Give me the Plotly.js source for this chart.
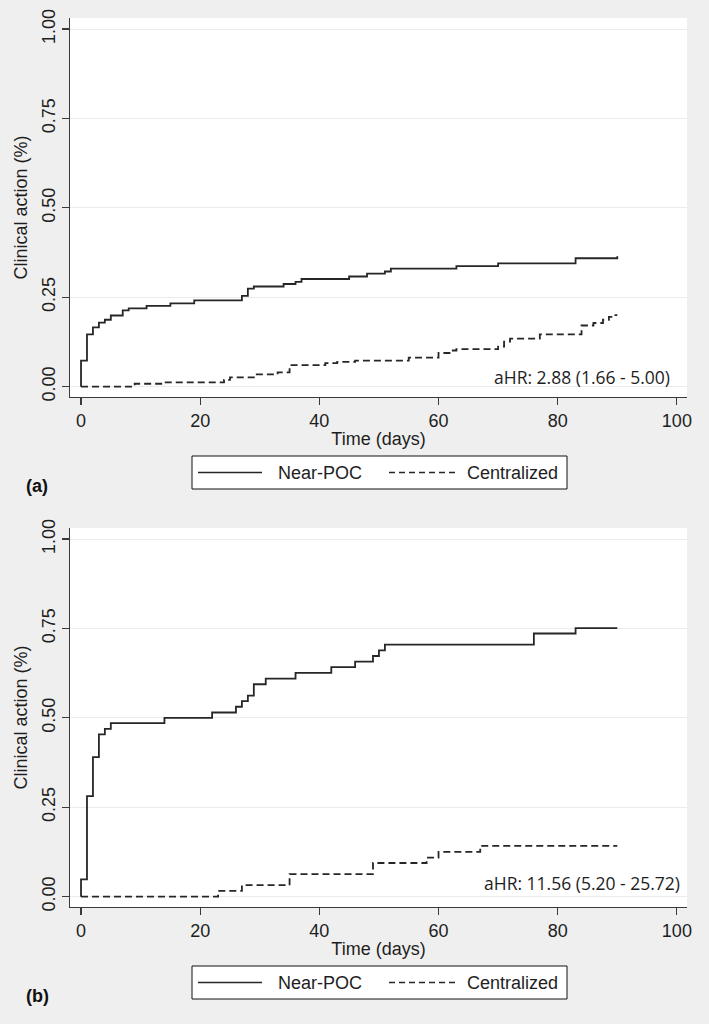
<!DOCTYPE html>
<html>
<head>
<meta charset="utf-8">
<script src="https://cdn.plot.ly/plotly-3.0.1.min.js"></script>
<style>
  html, body { margin: 0; padding: 0; background: #efefef; }
  #chart { width: 709px; height: 1024px; }
</style>
</head>
<body>
<div id="chart"></div>
<script>
// ---- Data ----
// Panel (a)
const aNearT = [0, 0, 1, 2, 3, 4, 5, 7, 8, 11, 15, 19, 27, 28, 29, 34, 36, 37, 45, 48, 51, 52, 63, 70, 83, 90];
const aNearV = [0, 0.073, 0.146, 0.166, 0.179, 0.187, 0.199, 0.213, 0.219, 0.226, 0.233, 0.241, 0.254, 0.274, 0.280, 0.287, 0.293, 0.301, 0.308, 0.316, 0.322, 0.330, 0.337, 0.345, 0.359, 0.365];
const aCentT = [0, 9, 14, 24, 25, 29, 33, 35, 41, 43, 46, 55, 60, 62, 63, 70, 71, 72, 77, 84, 86, 87.6, 88.6, 89.3, 90];
const aCentV = [0, 0.008, 0.012, 0.019, 0.026, 0.034, 0.040, 0.060, 0.066, 0.069, 0.073, 0.081, 0.094, 0.101, 0.105, 0.112, 0.126, 0.134, 0.146, 0.171, 0.178, 0.187, 0.195, 0.200, 0.200];
// Panel (b)
const bNearT = [0, 0, 1, 2, 3, 4, 5, 14, 22, 26, 27, 28, 29, 31, 36, 42, 46, 49, 50, 51, 76, 83, 90];
const bNearV = [0, 0.048, 0.281, 0.390, 0.454, 0.469, 0.485, 0.500, 0.515, 0.531, 0.547, 0.562, 0.594, 0.610, 0.626, 0.642, 0.657, 0.673, 0.689, 0.705, 0.736, 0.751, 0.751];
const bCentT = [0, 23, 27, 35, 49, 58, 60, 67, 90];
const bCentV = [0, 0.016, 0.032, 0.063, 0.094, 0.109, 0.125, 0.142, 0.142];

const seriesNames = ["Near-POC", "Centralized"];
const panelLabels = ["(a)", "(b)"];
const hrTexts = ["aHR: 2.88 (1.66 - 5.00)", "aHR: 11.56 (5.20 - 25.72)"];
const xTickVals = [0, 20, 40, 60, 80, 100];
const yTickVals = [0, 0.25, 0.5, 0.75, 1];
const yTickText = ["0.00", "0.25", "0.50", "0.75", "1.00"];
const xTitle = "Time (days)";
const yTitle = "Clinical action (%)";

// ---- Styling / layout ----
const W = 709, H = 1024;
const px = v => v / W;
const py = v => 1 - v / H;
const FONT = '"Liberation Sans", Arial, sans-serif';
const INK = '#1e1e1e';
const DASH = '7px,4px';

function stepTrace(x, y, name, dash, xa, ya) {
  return {
    x: x, y: y, name: name, type: 'scatter', mode: 'lines',
    line: { shape: 'hv', color: '#262626', width: 1.8, dash: dash },
    xaxis: xa, yaxis: ya, showlegend: false, hoverinfo: 'x+y+name'
  };
}

const traces = [
  stepTrace(aNearT, aNearV, seriesNames[0], 'solid', 'x', 'y'),
  stepTrace(aCentT, aCentV, seriesNames[1], DASH, 'x', 'y'),
  stepTrace(bNearT, bNearV, seriesNames[0], 'solid', 'x2', 'y2'),
  stepTrace(bCentT, bCentV, seriesNames[1], DASH, 'x2', 'y2')
];

function xAxis(domainY, anchor) {
  return {
    domain: [px(70), px(687)], anchor: anchor,
    range: [-1.85, 101.7], showgrid: false, zeroline: false,
    showline: true, linecolor: '#3a3a3a', linewidth: 1.2, mirror: false,
    ticks: 'outside', ticklen: 7, tickcolor: '#3a3a3a', tickwidth: 1.2,
    tickvals: xTickVals, tickfont: { family: FONT, size: 18, color: INK },
    title: { text: xTitle, font: { family: FONT, size: 18, color: INK }, standoff: 2 },
    fixedrange: true
  };
}
function yAxis(domainY, anchor) {
  return {
    domain: domainY, anchor: anchor,
    range: [-0.029, 1.031], showgrid: true, gridcolor: '#ebebeb', gridwidth: 1,
    zeroline: false, showline: true, linecolor: '#3a3a3a', linewidth: 1.2,
    ticks: 'outside', ticklen: 7, tickcolor: '#3a3a3a', tickwidth: 1.2,
    tickvals: yTickVals, ticktext: yTickText, tickangle: -90,
    tickfont: { family: FONT, size: 18, color: INK },
    title: { text: yTitle, font: { family: FONT, size: 18, color: INK }, standoff: 6 },
    fixedrange: true
  };
}

const offsets = [0, 510];
const shapes = [];
const annotations = [];
offsets.forEach((off, i) => {
  // legend box
  const top = 456 + off, bot = 489 + off, mid = (top + bot) / 2;
  shapes.push({ type: 'rect', xref: 'paper', yref: 'paper', x0: px(192), x1: px(567), y0: py(bot), y1: py(top),
    line: { color: '#111', width: 1 }, fillcolor: '#ffffff', layer: 'above' });
  shapes.push({ type: 'line', xref: 'paper', yref: 'paper', x0: px(198), x1: px(262), y0: py(mid), y1: py(mid),
    line: { color: '#262626', width: 1.6 } });
  shapes.push({ type: 'line', xref: 'paper', yref: 'paper', x0: px(389), x1: px(455), y0: py(mid), y1: py(mid),
    line: { color: '#262626', width: 1.6, dash: '6px,4px' } });
  annotations.push({ xref: 'paper', yref: 'paper', x: px(276), y: py(mid), xanchor: 'left', yanchor: 'middle',
    text: seriesNames[0], showarrow: false, font: { family: FONT, size: 18, color: INK } });
  annotations.push({ xref: 'paper', yref: 'paper', x: px(465), y: py(mid), xanchor: 'left', yanchor: 'middle',
    text: seriesNames[1], showarrow: false, font: { family: FONT, size: 18, color: INK } });
  // panel label
  annotations.push({ xref: 'paper', yref: 'paper', x: px(24), y: py(486 + off), xanchor: 'left', yanchor: 'middle',
    text: '<b>' + panelLabels[i] + '</b>', showarrow: false, font: { family: FONT, size: 18, color: '#111' } });
});
// hazard ratio texts
annotations.push({ xref: 'paper', yref: 'paper', x: px(672), y: py(377), xanchor: 'right', yanchor: 'middle',
  text: hrTexts[0], showarrow: false, font: { family: '"Open Sans", sans-serif', size: 17.5, color: INK } });
annotations.push({ xref: 'paper', yref: 'paper', x: px(682), y: py(883), xanchor: 'right', yanchor: 'middle',
  text: hrTexts[1], showarrow: false, font: { family: '"Open Sans", sans-serif', size: 17.5, color: INK } });

const layout = {
  width: W, height: H,
  margin: { l: 0, r: 0, t: 0, b: 0, pad: 0 },
  paper_bgcolor: '#efefef', plot_bgcolor: '#ffffff',
  showlegend: false,
  xaxis: xAxis(null, 'y'),
  yaxis: yAxis([py(397), py(18)], 'x'),
  xaxis2: xAxis(null, 'y2'),
  yaxis2: yAxis([py(907), py(528)], 'x2'),
  shapes: shapes,
  annotations: annotations,
  font: { family: FONT, color: INK }
};

Plotly.newPlot('chart', traces, layout, { displayModeBar: false, staticPlot: true });
</script>
</body>
</html>
